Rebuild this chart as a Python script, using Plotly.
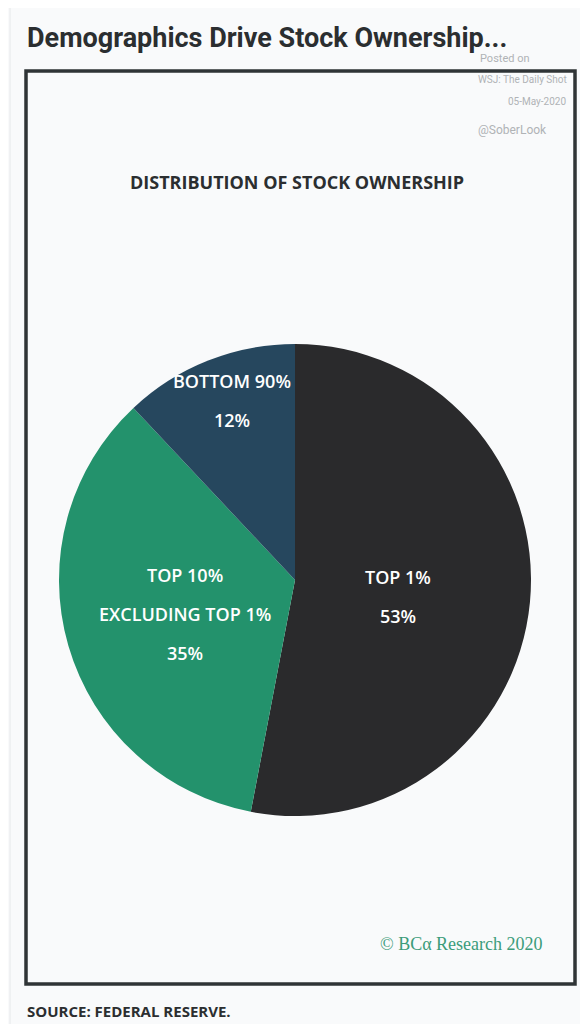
import plotly.graph_objects as go

groups = ["TOP 1%", "TOP 10%<br>EXCLUDING TOP 1%", "BOTTOM 90%"]
shares = [53, 35, 12]
colors = ["#2a2a2c", "#23926c", "#26475e"]

OFF = 8
W, H = 588 - 2 * OFF, 1032 - 2 * OFF
def px(x): return (x - OFF) / W
def py(y): return 1 - (y - OFF) / H

COND = "Roboto"

fig = go.Figure()
R = 236
fig.add_trace(go.Pie(
    labels=groups, values=shares, sort=False, direction="clockwise", rotation=0,
    marker=dict(colors=colors, line=dict(width=0)),
    textinfo="none", hoverinfo="label+percent", showlegend=False,
    domain=dict(x=[px(295 - R), px(295 + R)], y=[py(580 + R), py(580 - R)]),
))

label_pos = [(398, 596), (185, 614), (232, 400)]
STEP = 39
for g, s, (x, y) in zip(groups, shares, label_pos):
    lines = g.split("<br>") + [f"{s}%"]
    n = len(lines)
    for i, ln in enumerate(lines):
        yy = y + (i - (n - 1) / 2) * STEP
        fig.add_annotation(x=px(x), y=py(yy), xref="paper", yref="paper", text=ln,
                           showarrow=False, align="center", xanchor="center", yanchor="middle",
                           font=dict(family="Open Sans", size=18, color="white", weight=600))

shapes = [dict(type="rect", xref="paper", yref="paper",
               x0=px(26), x1=px(575), y0=py(984), y1=py(71),
               line=dict(color="#2f3436", width=3.5)),
          dict(type="line", xref="paper", yref="paper",
               x0=px(10), x1=px(10), y0=0, y1=1,
               line=dict(color="#e6e8ea", width=1))]

texts = [
    dict(x=px(25), y=py(38), text="<b>Demographics Drive Stock Ownership...</b>",
         xanchor="left", font=dict(family=COND, size=27, color="#2b2e30")),
    dict(x=px(297), y=py(182), text="<b>DISTRIBUTION OF STOCK OWNERSHIP</b>",
         xanchor="center", font=dict(family="Open Sans", size=18, color="#2b2e30")),
    dict(x=px(478), y=py(58), text="Posted on", xanchor="left",
         font=dict(family=COND, size=11, color="#b0b3b6")),
    dict(x=px(569), y=py(80), text="WSJ: The Daily Shot", xanchor="right",
         font=dict(family=COND, size=10, color="#b0b3b6")),
    dict(x=px(568), y=py(101), text="05-May-2020", xanchor="right",
         font=dict(family=COND, size=10, color="#b0b3b6")),
    dict(x=px(476), y=py(130), text="@SoberLook", xanchor="left",
         font=dict(family=COND, size=12, color="#b0b3b6")),
    dict(x=px(545), y=py(944), text="© BCα Research 2020", xanchor="right",
         font=dict(family="Liberation Serif", size=18, color="#3c9c7a")),
    dict(x=px(25), y=py(1011), text="<b>SOURCE: FEDERAL RESERVE.</b>", xanchor="left",
         font=dict(family="Open Sans", size=15, color="#2b2e30")),
]
for t in texts:
    fig.add_annotation(xref="paper", yref="paper", showarrow=False, yanchor="middle", **t)

fig.update_layout(width=W, height=H, margin=dict(l=0, r=0, t=0, b=0),
                  paper_bgcolor="#f9fafb", plot_bgcolor="#f9fafb", shapes=shapes)
fig.write_html("out.html")
